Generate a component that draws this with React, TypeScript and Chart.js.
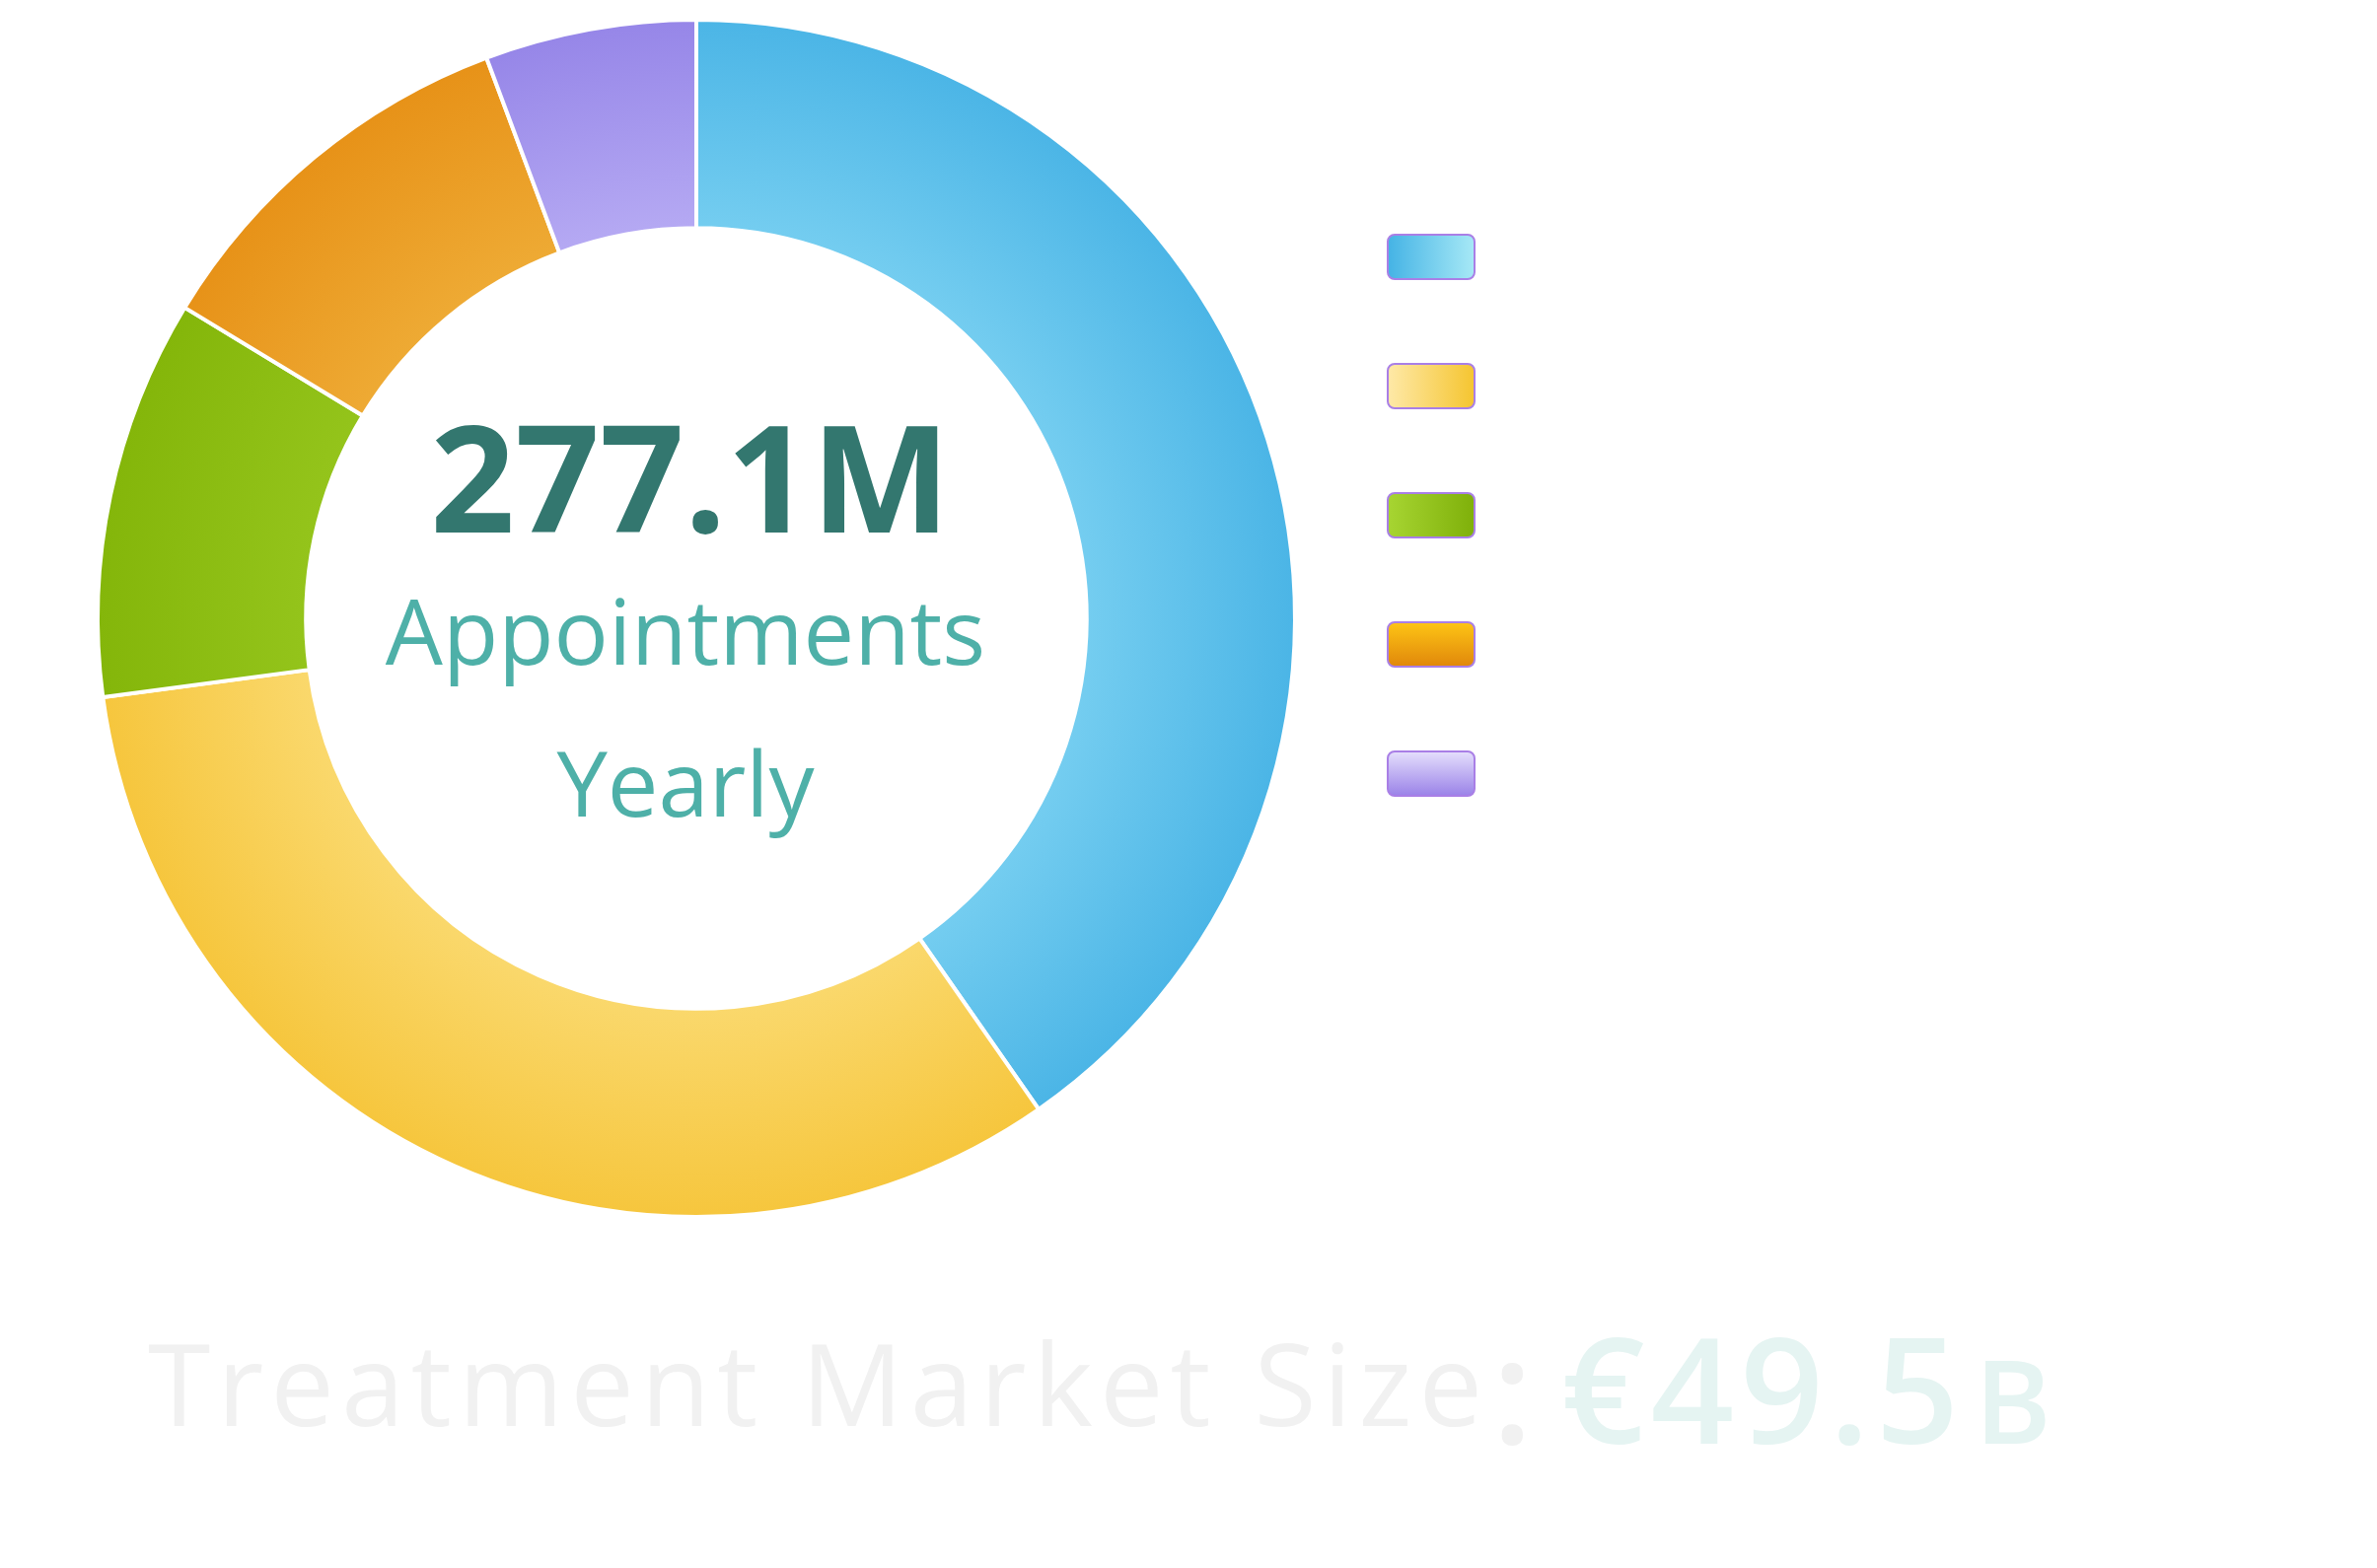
import { useEffect, useRef } from 'react';
import { Chart, registerables } from 'chart.js';

Chart.register(...registerables);

// Segment names are not shown in the legend, only the swatches.
const categories = ['', '', '', '', ''];
// Yearly appointments per segment, in millions.
const appointments = [111.7, 90.3, 29.9, 29.4, 15.8];

// Ring colours: lighter toward the hole, deeper at the rim.
const ringInner = ['#74cdf0', '#fad86c', '#94c41b', '#eeaa34', '#b5a9f3'];
const ringOuter = ['#4bb5e6', '#f6c63d', '#84b60a', '#e79218', '#9686e8'];

// Legend swatch gradients.
const swatchStart = ['#44b3e5', '#fee9a8', '#a7d532', '#fec515', '#e5dffc'];
const swatchEnd = ['#a7e9f6', '#f5c530', '#7fb00a', '#e0870b', '#9a82e8'];
const swatchVertical = [false, false, false, true, true];

const centerUnit = 'Appointments';
const centerPeriod = 'Yearly';
const marketLabel = 'Treatment Market Size';
const marketValue = '€49.5';
const marketSuffix = 'B';

const CANVAS_W = 2394;
const CANVAS_H = 1570;
const BORDER = 4;
const CUTOUT = 0.652;
const LEGEND_PAD = 86;
const LEGEND_TITLE_H = 134;
const BOX_W = 88;
const BOX_H = 45;

const textPlugin = {
  id: 'ringText',
  afterDraw(chart: any) {
    const { ctx, chartArea: a } = chart;
    if (!a) return;
    const cx = (a.left + a.right) / 2;
    const cy = (a.top + a.bottom) / 2;
    const total = appointments.reduce((s, v) => s + v, 0);
    ctx.save();
    ctx.textBaseline = 'alphabetic';
    ctx.textAlign = 'center';
    ctx.fillStyle = '#33776f';
    ctx.font = '700 150px "Open Sans"';
    ctx.fillText(`${total.toFixed(1)}M`, cx - 6, cy - 87);
    ctx.fillStyle = '#4eb0a8';
    ctx.font = '400 92px "Open Sans"';
    ctx.fillText(centerUnit, cx - 11, cy + 47);
    ctx.fillText(centerPeriod, cx - 11, cy + 201);

    // Footer line under the ring
    ctx.textAlign = 'left';
    ctx.fillStyle = '#f1f1f1';
    ctx.font = '500 115px "Open Sans"';
    (ctx as any).letterSpacing = '7px';
    ctx.fillText(marketLabel, 142, 1438);
    (ctx as any).letterSpacing = '0px';
    ctx.font = '600 148px "Open Sans"';
    ctx.fillText(':', 1505, 1456);
    ctx.fillStyle = '#e5f4f2';
    (ctx as any).letterSpacing = '6px';
    ctx.fillText(marketValue, 1575, 1456);
    ctx.font = '600 118px "Open Sans"';
    (ctx as any).letterSpacing = '0px';
    ctx.fillText(marketSuffix, 1994, 1456);
    ctx.restore();
  },
};

export default function App() {
  const canvasRef = useRef<HTMLCanvasElement | null>(null);

  useEffect(() => {
    const canvas = canvasRef.current;
    if (!canvas) return;

    const chart = new Chart(canvas, {
      type: 'doughnut',
      data: {
        labels: categories,
        datasets: [
          {
            data: appointments,
            borderColor: '#ffffff',
            borderWidth: BORDER,
            hoverOffset: 0,
            backgroundColor: (c: any) => {
              const i = c.dataIndex ?? 0;
              const a = c.chart.chartArea;
              if (!a) return ringOuter[i];
              const cx = (a.left + a.right) / 2;
              const cy = (a.top + a.bottom) / 2;
              const R = (Math.min(a.right - a.left, a.bottom - a.top) - BORDER) / 2;
              const g = c.chart.ctx.createRadialGradient(cx, cy, R * CUTOUT, cx, cy, R);
              g.addColorStop(0, ringInner[i]);
              g.addColorStop(1, ringOuter[i]);
              return g;
            },
          },
        ],
      },
      options: {
        animation: false,
        responsive: true,
        maintainAspectRatio: false,
        cutout: `${CUTOUT * 100}%`,
        layout: {
          padding: { left: 83, top: 10, right: CANVAS_W - 1503, bottom: CANVAS_H - 1228 },
        },
        plugins: {
          tooltip: { enabled: false },
          legend: {
            position: 'right',
            align: 'start',
            title: {
              display: true,
              text: '',
              font: { size: 12, lineHeight: '14px' },
              padding: { top: LEGEND_TITLE_H - 14, bottom: 0 },
            },
            labels: {
              boxWidth: BOX_W,
              boxHeight: BOX_H,
              padding: LEGEND_PAD,
              font: { size: 12 },
              color: '#666666',
              generateLabels: (ch: any) => {
                const lg = ch.legend;
                const left = lg && Number.isFinite(lg.left) ? lg.left : 0;
                const top = lg && Number.isFinite(lg.top) ? lg.top : 0;
                return categories.map((text, i) => {
                  const x0 = left + LEGEND_PAD;
                  const y0 = top + LEGEND_TITLE_H + LEGEND_PAD + i * (BOX_H + LEGEND_PAD);
                  const g = swatchVertical[i]
                    ? ch.ctx.createLinearGradient(0, y0, 0, y0 + BOX_H)
                    : ch.ctx.createLinearGradient(x0, 0, x0 + BOX_W, 0);
                  g.addColorStop(0, swatchStart[i]);
                  g.addColorStop(1, swatchEnd[i]);
                  return {
                    text,
                    fillStyle: g,
                    strokeStyle: '#a97fe6',
                    lineWidth: 2,
                    borderRadius: 7,
                    fontColor: '#666666',
                    hidden: false,
                    index: i,
                  };
                });
              },
            },
          },
        },
      },
      plugins: [textPlugin],
    });

    return () => chart.destroy();
  }, []);

  return (
    <div style={{ position: 'relative', width: CANVAS_W, height: CANVAS_H }}>
      <canvas ref={canvasRef} style={{ display: 'block' }} />
    </div>
  );
}
